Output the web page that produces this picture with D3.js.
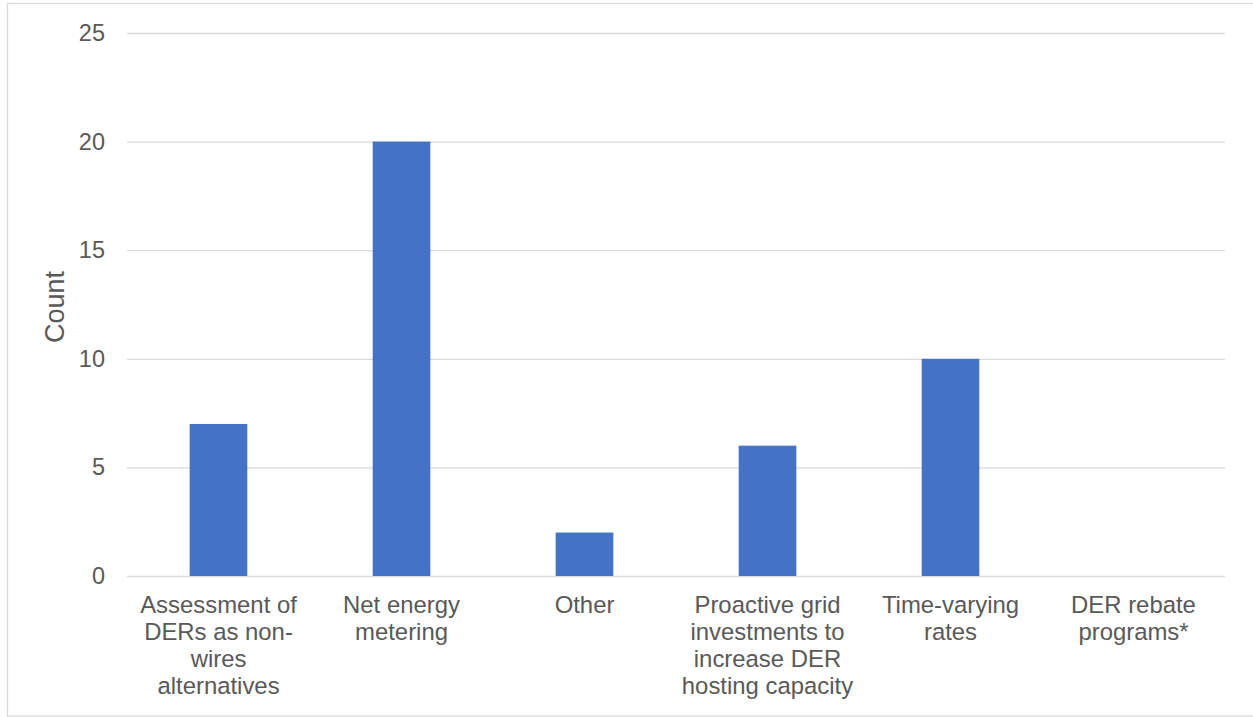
<!DOCTYPE html>
<html>
<head>
<meta charset="utf-8">
<script src="https://cdn.jsdelivr.net/npm/d3@7"></script>
<style>
  html, body { margin: 0; padding: 0; background: #fff; }
  svg { display: block; font-family: "Liberation Sans", Arial, sans-serif; }
</style>
</head>
<body>
<svg id="chart" width="1253" height="717"></svg>
<script>
// Policy categories and how many times each was reported
const categories = [
  "Assessment of DERs as non-wires alternatives",
  "Net energy metering",
  "Other",
  "Proactive grid investments to increase DER hosting capacity",
  "Time-varying rates",
  "DER rebate programs*"
];
const counts = [7, 20, 2, 6, 10, 0];
const yTicks = [0, 5, 10, 15, 20, 25];
const yTitle = "Count";

const svg = d3.select("#chart");
const plot = { left: 127, right: 1225, top: 33, bottom: 576 };

// Outer chart frame
svg.append("rect")
  .attr("x", 7.5).attr("y", 3.5)
  .attr("width", 1260).attr("height", 712.5)
  .attr("fill", "none").attr("stroke", "#d9d9d9").attr("stroke-width", 1.3);

const x = d3.scaleBand()
  .domain(categories)
  .range([plot.left, plot.right])
  .paddingInner(0.685)
  .paddingOuter(0.3425);

const y = d3.scaleLinear()
  .domain([0, 25])
  .range([plot.bottom, plot.top]);

// Horizontal gridlines with value labels
const yAxis = d3.axisLeft(y)
  .tickValues(yTicks)
  .tickSize(-(plot.right - plot.left))
  .tickPadding(22)
  .tickFormat(d3.format("d"));

const gy = svg.append("g")
  .attr("transform", `translate(${plot.left},0)`)
  .call(yAxis);
gy.select(".domain").remove();
gy.selectAll(".tick line")
  .attr("stroke", "#d9d9d9").attr("stroke-width", 1.3);
gy.selectAll(".tick text")
  .attr("fill", "#595959")
  .attr("font-size", "23.5px")
  .attr("font-family", "Liberation Sans, Arial, sans-serif");

// Bars
svg.append("g").selectAll("rect")
  .data(categories)
  .join("rect")
  .attr("x", d => x(d))
  .attr("y", (d, i) => y(counts[i]))
  .attr("width", x.bandwidth())
  .attr("height", (d, i) => y(0) - y(counts[i]))
  .attr("fill", "#4472c4");

// Category labels, wrapped to fit each band (breaks after spaces and hyphens)
const maxLabelWidth = 178;
const lineHeight = 27;
const labelGroup = svg.append("g")
  .attr("fill", "#595959")
  .attr("font-size", "23.9px")
  .attr("text-anchor", "middle");

categories.forEach(cat => {
  const cx = x(cat) + x.bandwidth() / 2;
  const text = labelGroup.append("text")
    .attr("x", cx).attr("y", 613);
  const tokens = cat.match(/[^\s-]+-?\s*|\s+/g);
  const measure = text.append("tspan").attr("x", cx);
  const lines = [];
  let current = "";
  tokens.forEach(tok => {
    const candidate = current + tok;
    measure.text(candidate.trim());
    if (current && measure.node().getComputedTextLength() > maxLabelWidth) {
      lines.push(current.trim());
      current = tok;
    } else {
      current = candidate;
    }
  });
  if (current.trim()) lines.push(current.trim());
  measure.remove();
  lines.forEach((line, i) => {
    text.append("tspan")
      .attr("x", cx)
      .attr("dy", i === 0 ? 0 : lineHeight)
      .text(line);
  });
});

// Y axis title
svg.append("text")
  .attr("transform", "translate(64,307) rotate(-90)")
  .attr("text-anchor", "middle")
  .attr("fill", "#595959")
  .attr("font-size", "27px")
  .text(yTitle);
</script>
</body>
</html>
